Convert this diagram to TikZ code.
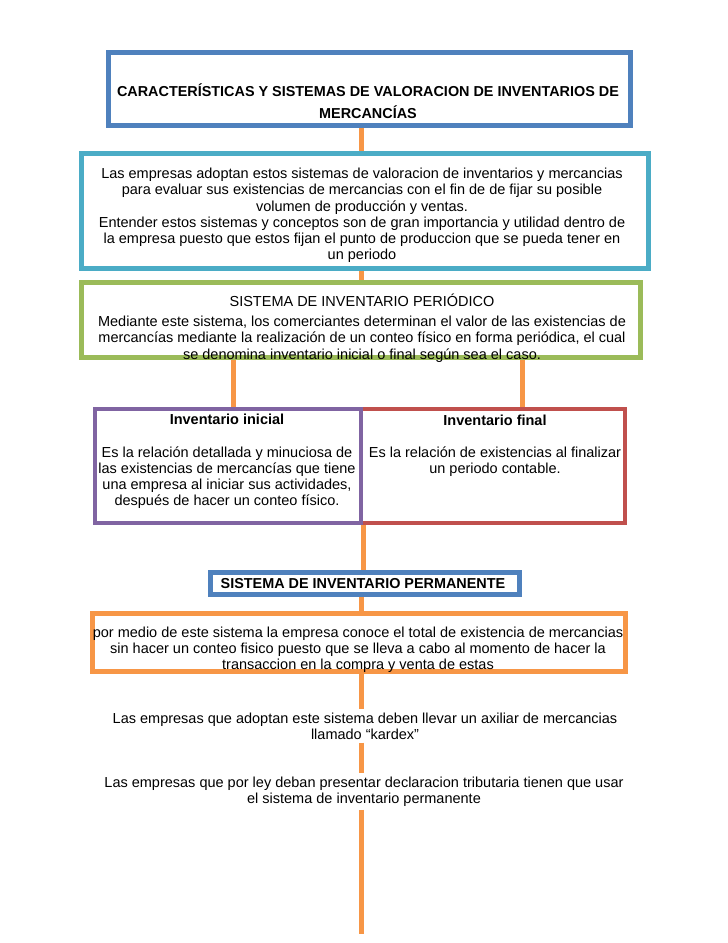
\documentclass[tikz,border=0pt]{standalone}
\usepackage{fontspec}
\setmainfont{Liberation Sans}
\usetikzlibrary{backgrounds}
\definecolor{azul}{HTML}{4F81BD}
\definecolor{cian}{HTML}{4BACC6}
\definecolor{verde}{HTML}{9BBB59}
\definecolor{morado}{HTML}{8064A2}
\definecolor{rojo}{HTML}{C0504D}
\definecolor{naranja}{HTML}{F79646}

\begin{document}
\begin{tikzpicture}[x=1pt,y=-1pt,
  caja/.style={rectangle,draw=#1,fill=white,line width=5pt,inner sep=0pt},
  texto/.style={align=center,inner sep=3pt,font=\fontsize{14.5}{16.2}\selectfont},
  conector/.style={draw=naranja,line width=5pt}]
\useasboundingbox (0,0) rectangle (728,943);
\node[caja=azul,minimum width=522pt,minimum height=73pt] (titulo) at (369.5,89) {};
\node[texto,font=\fontsize{14.4}{22}\selectfont\bfseries] (tituloTexto) at (368,101)
  {CARACTERÍSTICAS Y SISTEMAS DE VALORACION DE INVENTARIOS DE\\MERCANCÍAS};
\node[caja=cian,minimum width=567pt,minimum height=115pt] (descripcion) at (365,211) {};
\node[texto] (descripcionTexto) at (362,215.5)
  {Las empresas adoptan estos sistemas de valoracion de inventarios y mercancias\\
   para evaluar sus existencias de mercancias con el fin de de fijar su posible\\
   volumen de producción y ventas.\\
   Entender estos sistemas y conceptos son de gran importancia y utilidad dentro de\\
   la empresa puesto que estos fijan el punto de produccion que se pueda tener en\\
   un periodo};
\node[caja=verde,minimum width=559pt,minimum height=75pt] (periodico) at (361,320) {};
\node[texto] (periodicoTexto) at (362,328)
  {SISTEMA DE INVENTARIO PERIÓDICO\\[4pt]
   Mediante este sistema, los comerciantes determinan el valor de las existencias de\\
   mercancías mediante la realización de un conteo físico en forma periódica, el cual\\
   se denomina inventario inicial o final según sea el caso.};
\node[caja=rojo,line width=4.5pt,minimum width=264pt,minimum height=114pt] (final) at (493,466) {};
\node[caja=morado,line width=4.5pt,minimum width=266pt,minimum height=114pt] (inicial) at (228,466) {};
\node[texto] (inicialTexto) at (227,461.5)
  {\textbf{Inventario inicial}\\[16pt]
   Es la relación detallada y minuciosa de\\
   las existencias de mercancías que tiene\\
   una empresa al iniciar sus actividades,\\
   después de hacer un conteo físico.};
\node[texto] (finalTexto) at (495,446)
  {\textbf{Inventario final}\\[16pt]
   Es la relación de existencias al finalizar\\
   un periodo contable.};
\node[caja=azul,minimum width=309pt,minimum height=22pt] (permanente) at (365,583.5) {};
\node[texto,font=\fontsize{14.4}{16}\selectfont\bfseries] (permanenteTexto) at (363,583.5)
  {SISTEMA DE INVENTARIO PERMANENTE};
\node[caja=naranja,minimum width=533pt,minimum height=58pt] (registro) at (359,642.5) {};
\node[texto] (registroTexto) at (358,650)
  {por medio de este sistema la empresa conoce el total de existencia de mercancias\\
   sin hacer un conteo fisico puesto que se lleva a cabo al momento de hacer la\\
   transaccion en la compra y venta de estas};
\node[texto] (kardex) at (365,726)
  {Las empresas que adoptan este sistema deben llevar un axiliar de mercancias\\
   llamado “kardex”};
\node[texto] (ley) at (364,791.5)
  {Las empresas que por ley deban presentar declaracion tributaria tienen que usar\\
   el sistema de inventario permanente};
\coordinate (fin) at (361,934);
\begin{scope}[on background layer]
\draw[conector] (titulo.south -| periodico) -- (descripcion.north -| periodico);
\draw[conector] (descripcion.south -| periodico) -- (periodico.north);
\draw[conector] ([xshift=5pt]inicial.north |- periodico.south) -- ([xshift=5pt]inicial.north);
\draw[conector] ([xshift=29pt]final.north |- periodico.south) -- ([xshift=29pt]final.north);
\draw[conector] (inicial.south east) -- (inicial.south east |- permanente.north);
\draw[conector] (permanente.south -| periodico) -- (registro.north -| periodico);
\draw[conector] (registro.south -| periodico) -- (kardex.north -| periodico);
\draw[conector] (kardex.south -| periodico) -- (ley.north -| periodico);
\draw[conector] (ley.south -| periodico) -- (fin);
\end{scope}
\end{tikzpicture}
\end{document}
